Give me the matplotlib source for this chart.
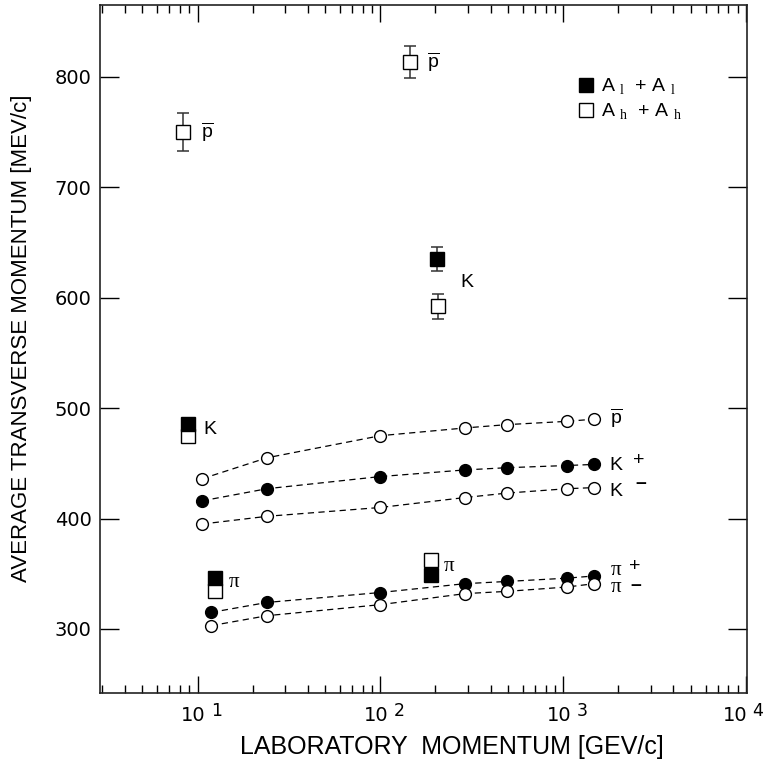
import numpy as np
import matplotlib
matplotlib.use("Agg")
import matplotlib.pyplot as plt
from matplotlib.lines import Line2D
from matplotlib.ticker import LogLocator, NullFormatter, FixedLocator

plt.rcParams["font.family"] = "Liberation Sans"
plt.rcParams["mathtext.fontset"] = "custom"
plt.rcParams["mathtext.rm"] = "Liberation Serif"
plt.rcParams["mathtext.sf"] = "Liberation Sans"

# ---- data ----
p_kaon = [10.6, 24, 100, 290, 490, 1050, 1480]
p_pion = [11.9, 24, 100, 290, 490, 1050, 1480]
pt_pbar = [436, 455, 475, 482, 485, 488, 490]
pt_kplus = [416, 427, 438, 444, 446, 448, 449]
pt_kminus = [395, 402, 410, 419, 423, 427, 428]
pt_piplus = [315, 324, 333, 341, 343, 346, 348]
pt_piminus = [303, 312, 322, 332, 334, 338, 341]

# nucleus-nucleus points: p_lab, <pt>, error
aa_light_p = [8.9, 203, 12.5, 190]
aa_light_pt = [486, 635, 346, 349]
aa_light_err = [0, 11, 0, 0]
aa_heavy_p = [8.3, 146, 207, 8.9, 12.5, 190]
aa_heavy_pt = [750, 813, 592, 475, 334, 362]
aa_heavy_err = [17, 14.5, 11, 0, 0, 0]

fig = plt.figure(figsize=(7.63, 7.62), dpi=100)
ax = fig.add_axes([100 / 763, 69 / 762, 647 / 763, 688 / 762])

ax.set_xscale("log")
ax.set_xlim(2.93, 1.01e4)
ax.set_ylim(242, 865)

dash = dict(ls=(0, (5, 3.5)), lw=0.9, color="black")
ax.plot(p_kaon, pt_pbar, marker="o", ms=8.5, mfc="white", mec="black", mew=1, **dash)
ax.plot(p_kaon, pt_kplus, marker="o", ms=8.5, mfc="black", mec="black", mew=1, **dash)
ax.plot(p_kaon, pt_kminus, marker="o", ms=8.5, mfc="white", mec="black", mew=1, **dash)
ax.plot(p_pion, pt_piplus, marker="o", ms=8.5, mfc="black", mec="black", mew=1, **dash)
ax.plot(p_pion, pt_piminus, marker="o", ms=8.5, mfc="white", mec="black", mew=1, **dash)

for xs, ys, es, fc in [(aa_heavy_p, aa_heavy_pt, aa_heavy_err, "white"),
                       (aa_light_p, aa_light_pt, aa_light_err, "black")]:
    for x, y, e in zip(xs, ys, es):
        if e > 0:
            ax.errorbar(x, y, yerr=e, fmt="none", ecolor="#333333", elinewidth=1.1,
                        capsize=4, capthick=1.1, zorder=3)
        ax.plot(x, y, marker="s", ms=10, mfc=fc, mec="black", mew=1, ls="none", zorder=4)

# ---- labels next to the points ----
pbar = r"$\overline{\mathsf{p}}$"
lab_kw = dict(textcoords="offset points", fontsize=14, va="center", ha="left")
pi_kw = dict(textcoords="offset points", fontsize=15, va="center", ha="left",
             family="Liberation Serif")
minus_kw = dict(textcoords="offset points", fontsize=11, va="center", ha="left",
                fontweight="bold", family="DejaVu Sans")
ax.annotate(pbar, (aa_heavy_p[0], aa_heavy_pt[0]), xytext=(13, 0), **lab_kw)
ax.annotate(pbar, (aa_heavy_p[1], aa_heavy_pt[1]), xytext=(12, 0), **lab_kw)
ax.annotate("K", (aa_light_p[1], (aa_light_pt[1] + aa_heavy_pt[2]) / 2), xytext=(17, 0), **lab_kw)
ax.annotate("K", (aa_light_p[0], aa_light_pt[0]), xytext=(11, -4), **lab_kw)
ax.annotate("π", (aa_light_p[2], aa_light_pt[2]), xytext=(10, -3), **pi_kw)
ax.annotate("π", (aa_light_p[3], aa_light_pt[3]), xytext=(9, 6), **pi_kw)

ax.annotate(pbar, (p_kaon[-1], pt_pbar[-1]), xytext=(11, 1), **lab_kw)
ax.annotate("K", (p_kaon[-1], pt_kplus[-1]), xytext=(11, -1), **lab_kw)
ax.annotate("+", (p_kaon[-1], pt_kplus[-1]), xytext=(28, 3), **lab_kw)
ax.annotate("K", (p_kaon[-1], pt_kminus[-1]), xytext=(11, -3), **lab_kw)
ax.annotate("−", (p_kaon[-1], pt_kminus[-1]), xytext=(28.5, 3), **minus_kw)
ax.annotate("π", (p_pion[-1], pt_piplus[-1]), xytext=(12, 4), **pi_kw)
ax.annotate("+", (p_pion[-1], pt_piplus[-1]), xytext=(25, 7), **lab_kw)
ax.annotate("π", (p_pion[-1], pt_piminus[-1]), xytext=(12, -3), **pi_kw)
ax.annotate("−", (p_pion[-1], pt_piminus[-1]), xytext=(25.5, -1), **minus_kw)

# ---- legend ----
handles = [Line2D([], [], ls="none", marker="s", ms=10, mfc="black", mec="black"),
           Line2D([], [], ls="none", marker="s", ms=10, mfc="white", mec="black")]
labels = [r"A $_{\mathrm{l}}$  + A $_{\mathrm{l}}$", r"A $_{\mathrm{h}}$  + A $_{\mathrm{h}}$"]
ax.legend(handles, labels, loc="upper left", bbox_to_anchor=(0.727, 0.907), frameon=False,
          fontsize=14, handlelength=0.8, handletextpad=0.4, labelspacing=0.25,
          borderaxespad=0)

# ---- axes and ticks ----
ax.xaxis.set_major_locator(FixedLocator([10, 100, 1000, 10000]))
ax.xaxis.set_minor_locator(LogLocator(base=10, subs=np.arange(2, 10)))
ax.xaxis.set_major_formatter(NullFormatter())
ax.xaxis.set_minor_formatter(NullFormatter())
ax.set_yticks([300, 400, 500, 600, 700, 800])
ax.tick_params(axis="x", which="both", direction="in", top=True, bottom=True, width=1)
ax.tick_params(axis="x", which="major", length=12)
ax.tick_params(axis="x", which="minor", length=5.5)
ax.tick_params(axis="y", which="major", direction="in", left=True, right=True,
               length=13.5, width=1, labelsize=14, pad=6)
for lbl in ax.get_yticklabels():
    lbl.set_family("DejaVu Sans")
for s in ax.spines.values():
    s.set_linewidth(1.2)
    s.set_color("#222222")

for k in [1, 2, 3, 4]:
    shift = -5 if k == 4 else 0
    ax.annotate("10", (10 ** k, 0), xycoords=ax.get_xaxis_transform(), xytext=(-3 + shift, -9.5),
                textcoords="offset points", ha="center", va="top", fontsize=14,
                family="DejaVu Sans")
    ax.annotate(str(k), (10 ** k, 0), xycoords=ax.get_xaxis_transform(), xytext=(9.5 + shift, -6.5),
                textcoords="offset points", ha="left", va="top", fontsize=12.5,
                family="DejaVu Sans")

fig.text(452 / 763, 1 - 747 / 762, "LABORATORY  MOMENTUM [GEV/c]", ha="center",
         va="center", fontsize=18)
fig.text(22 / 763, 1 - 338 / 762, "AVERAGE TRANSVERSE MOMENTUM [MEV/c]", ha="center",
         va="center", rotation=90, fontsize=16)

fig.savefig("out.png", dpi=100)
